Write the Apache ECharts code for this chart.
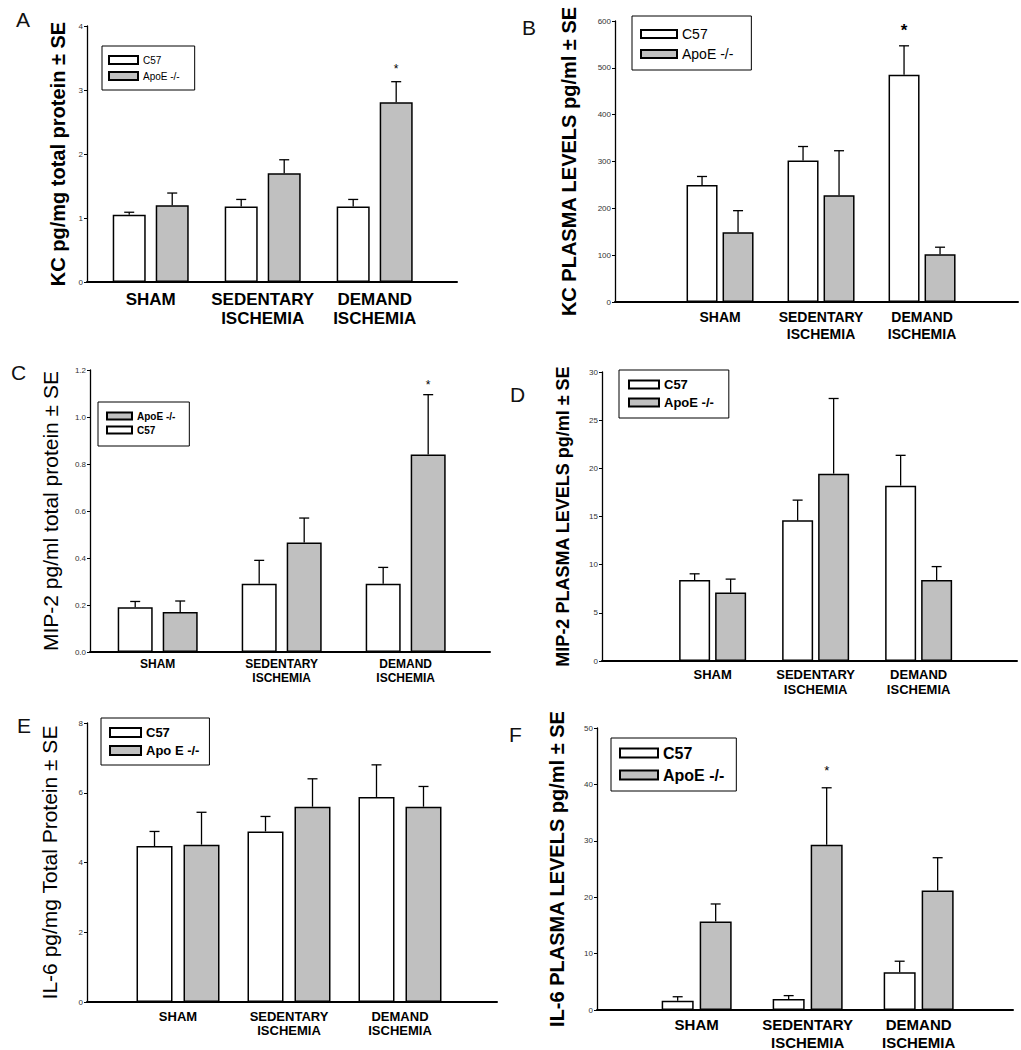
<!DOCTYPE html>
<html>
<head>
<meta charset="utf-8">
<script src="https://cdn.jsdelivr.net/npm/echarts@6/dist/echarts.min.js"></script>
<style>
html,body{margin:0;padding:0;background:#fff;}
#chart{width:1021px;height:1050px;}
</style>
</head>
<body>
<div id="chart"></div>
<script>
// ---------------- DATA ----------------
const categories = ['SHAM', 'SEDENTARY\nISCHEMIA', 'DEMAND\nISCHEMIA'];

// A: KC (tissue)
const A_c57 = [1.05, 1.18, 1.18];
const A_c57_se = [0.04, 0.11, 0.11];
const A_apoe = [1.20, 1.70, 2.81];
const A_apoe_se = [0.19, 0.21, 0.32];
const A_c57_star = [0, 0, 0];
const A_apoe_star = [0, 0, 1];
const A_yTicks = ['0', '1', '2', '3', '4'];

// B: KC plasma
const B_c57 = [250, 302, 485];
const B_c57_se = [18, 30, 62];
const B_apoe = [149, 228, 102];
const B_apoe_se = [46, 95, 15];
const B_c57_star = [0, 0, 1];
const B_apoe_star = [0, 0, 0];
const B_yTicks = ['0', '100', '200', '300', '400', '500', '600'];

// C: MIP-2 (tissue)
const C_c57 = [0.19, 0.29, 0.29];
const C_c57_se = [0.025, 0.10, 0.07];
const C_apoe = [0.17, 0.466, 0.84];
const C_apoe_se = [0.047, 0.104, 0.255];
const C_c57_star = [0, 0, 0];
const C_apoe_star = [0, 0, 1];
const C_yTicks = ['0.0', '0.2', '0.4', '0.6', '0.8', '1.0', '1.2'];

// D: MIP-2 plasma
const D_c57 = [8.4, 14.6, 18.2];
const D_c57_se = [0.65, 2.1, 3.15];
const D_apoe = [7.1, 19.45, 8.4];
const D_apoe_se = [1.4, 7.8, 1.4];
const D_c57_star = [0, 0, 0];
const D_apoe_star = [0, 0, 0];
const D_yTicks = ['0', '5', '10', '15', '20', '25', '30'];

// E: IL-6 (tissue)
const E_c57 = [4.47, 4.89, 5.88];
const E_c57_se = [0.42, 0.43, 0.92];
const E_apoe = [4.51, 5.60, 5.60];
const E_apoe_se = [0.93, 0.80, 0.58];
const E_c57_star = [0, 0, 0];
const E_apoe_star = [0, 0, 0];
const E_yTicks = ['0', '2', '4', '6', '8'];

// F: IL-6 plasma
const F_c57 = [1.65, 1.95, 6.7];
const F_c57_se = [0.7, 0.6, 1.95];
const F_apoe = [15.7, 29.3, 21.2];
const F_apoe_se = [3.1, 10.1, 5.8];
const F_c57_star = [0, 0, 0];
const F_apoe_star = [0, 1, 0];
const F_yTicks = ['0', '10', '20', '30', '40', '50'];

// ---------------- LAYOUT / STYLE ----------------
const FONT = '"Liberation Sans", Arial, Helvetica, sans-serif';
const WHITE = '#ffffff';
const GRAY = '#c0c0c0';

const panels = [
  { letter:'A', letterPos:[16,9],
    grid:{left:87, top:26, width:370, height:256}, yMax:4, yInt:1, yTicks:A_yTicks,
    xMin:-0.569, xMax:2.735, barW:33, gap:10,
    yName:'KC pg/mg total protein ± SE', yNameSize:20, yNameBold:'bold', yNameGap:19,
    catSize:17, catGap:8, catLH:19, starSize:12, starBold:'normal', starGap:13,
    c57:A_c57, c57se:A_c57_se, c57star:A_c57_star, apoe:A_apoe, apoese:A_apoe_se, apoestar:A_apoe_star,
    c57Name:'C57', apoeName:'ApoE -/-', legendOrder:['C57','ApoE -/-'],
    legend:{left:102, top:46, padding:[9,15,9,6], iw:29, ih:8, gap:6, fs:10, fw:'normal'} },
  { letter:'B', letterPos:[522,17],
    grid:{left:615, top:21, width:403, height:281}, yMax:600, yInt:100, yTicks:B_yTicks,
    xMin:-1.04, xMax:2.95, barW:31, gap:5,
    yName:'KC PLASMA LEVELS pg/ml ± SE', yNameSize:20, yNameBold:'bold', yNameGap:36,
    catSize:14, catGap:6, catLH:17, starSize:17, starBold:'bold', starGap:15,
    c57:B_c57, c57se:B_c57_se, c57star:B_c57_star, apoe:B_apoe, apoese:B_apoe_se, apoestar:B_apoe_star,
    c57Name:'C57', apoeName:'ApoE -/-', legendOrder:['C57','ApoE -/-'],
    legend:{left:632, top:16, padding:[11,18,9,8], iw:36, ih:8, gap:6, fs:14, fw:'normal'} },
  { letter:'C', letterPos:[11,362],
    grid:{left:90, top:370, width:400, height:282}, yMax:1.2, yInt:0.2, yTicks:C_yTicks,
    xMin:-0.546, xMax:2.68, barW:35, gap:10,
    yName:'MIP-2 pg/ml total protein ± SE', yNameSize:21, yNameBold:'normal', yNameGap:29,
    catSize:12, catGap:5, catLH:14, starSize:12, starBold:'normal', starGap:10,
    c57:C_c57, c57se:C_c57_se, c57star:C_c57_star, apoe:C_apoe, apoese:C_apoe_se, apoestar:C_apoe_star,
    c57Name:'C57', apoeName:'ApoE -/-', legendOrder:['ApoE -/-','C57'],
    legend:{left:98, top:402, padding:[9,14,11,8], iw:25, ih:7, gap:4, fs:10, fw:'bold'} },
  { letter:'D', letterPos:[510,384],
    grid:{left:602, top:372, width:415, height:289}, yMax:30, yInt:5, yTicks:D_yTicks,
    xMin:-1.074, xMax:2.955, barW:31, gap:5,
    yName:'MIP-2 PLASMA LEVELS pg/ml ± SE', yNameSize:18, yNameBold:'bold', yNameGap:30,
    catSize:13, catGap:6, catLH:15, starSize:12, starBold:'normal', starGap:12,
    c57:D_c57, c57se:D_c57_se, c57star:D_c57_star, apoe:D_apoe, apoese:D_apoe_se, apoestar:D_apoe_star,
    c57Name:'C57', apoeName:'ApoE -/-', legendOrder:['C57','ApoE -/-'],
    legend:{left:619, top:370, padding:[8,15,9,9], iw:30, ih:8, gap:5, fs:13, fw:'bold'} },
  { letter:'E', letterPos:[17,715],
    grid:{left:87, top:723, width:410, height:279}, yMax:8, yInt:2, yTicks:E_yTicks,
    xMin:-0.82, xMax:2.874, barW:36, gap:11,
    yName:'IL-6 pg/mg Total Protein ± SE', yNameSize:21, yNameBold:'normal', yNameGap:27,
    catSize:13, catGap:7, catLH:14, starSize:12, starBold:'normal', starGap:12,
    c57:E_c57, c57se:E_c57_se, c57star:E_c57_star, apoe:E_apoe, apoese:E_apoe_se, apoestar:E_apoe_star,
    c57Name:'C57', apoeName:'Apo E -/-', legendOrder:['C57','Apo E -/-'],
    legend:{left:101, top:718, padding:[8,10,8,8], iw:31, ih:9, gap:5, fs:13, fw:'bold'} },
  { letter:'F', letterPos:[509,724],
    grid:{left:597, top:728, width:416, height:282}, yMax:50, yInt:10, yTicks:F_yTicks,
    xMin:-0.898, xMax:2.85, barW:32, gap:6,
    yName:'IL-6 PLASMA LEVELS pg/ml ± SE', yNameSize:20, yNameBold:'bold', yNameGap:30,
    catSize:15, catGap:5, catLH:18, starSize:13, starBold:'normal', starGap:17,
    c57:F_c57, c57se:F_c57_se, c57star:F_c57_star, apoe:F_apoe, apoese:F_apoe_se, apoestar:F_apoe_star,
    c57Name:'C57', apoeName:'ApoE -/-', legendOrder:['C57','ApoE -/-'],
    legend:{left:611, top:738, padding:[7,12,8,8], iw:38, ih:9, gap:6, fs:16, fw:'bold'} }
];

// ---------------- BUILD ----------------
const option = {
  animation: false,
  backgroundColor: '#fff',
  textStyle: { fontFamily: FONT },
  title: [], grid: [], xAxis: [], yAxis: [], legend: [], series: []
};

function errRenderer(p, side) {
  return function (params, api) {
    const k = api.value(0), v = api.value(1), se = api.value(2), star = api.value(3);
    const p0 = api.coord([k, v]);
    const p1 = api.coord([k, v + se]);
    const x = p0[0] + side * (p.barW + p.gap) / 2;
    const children = [
      { type: 'line', shape: { x1: x, y1: p0[1], x2: x, y2: p1[1] }, style: { stroke: '#000', lineWidth: 1.3 } },
      { type: 'line', shape: { x1: x - 5, y1: p1[1], x2: x + 5, y2: p1[1] }, style: { stroke: '#000', lineWidth: 1.3 } }
    ];
    if (star) {
      children.push({ type: 'text', x: x, y: p1[1] - p.starGap,
        style: { text: '*', fontSize: p.starSize, fontWeight: p.starBold, fontFamily: FONT,
                 fill: '#000', align: 'center', verticalAlign: 'middle' } });
    }
    return { type: 'group', children: children };
  };
}

panels.forEach(function (p, i) {
  option.title.push({ text: p.letter, left: p.letterPos[0], top: p.letterPos[1], padding: 0,
    textStyle: { fontSize: 21, fontWeight: 'normal', color: '#111', fontFamily: FONT } });

  option.grid.push({ left: p.grid.left, top: p.grid.top, width: p.grid.width, height: p.grid.height,
    containLabel: false, outerBoundsMode: 'none' });

  option.xAxis.push({ type: 'value', gridIndex: i, min: p.xMin, max: p.xMax,
    axisLine: { show: true, onZero: false, lineStyle: { color: '#000', width: 2 } },
    axisTick: { show: false }, axisLabel: { show: false }, splitLine: { show: false } });

  option.yAxis.push({ type: 'value', gridIndex: i, min: 0, max: p.yMax, interval: p.yInt,
    axisLine: { show: true, onZero: false, lineStyle: { color: '#000', width: 1.3 } },
    axisTick: { show: true, inside: false, length: 3, lineStyle: { color: '#000', width: 1 } },
    axisLabel: { fontSize: 8, color: '#333', margin: 4, fontFamily: FONT,
      formatter: (function (ticks) { return function (v, idx) { return ticks[idx] !== undefined ? ticks[idx] : ''; }; })(p.yTicks) },
    splitLine: { show: false },
    name: p.yName, nameLocation: 'middle', nameRotate: 90, nameGap: p.yNameGap,
    nameTextStyle: { fontSize: p.yNameSize, fontWeight: p.yNameBold, color: '#000', fontFamily: FONT } });

  option.legend.push({ show: true, orient: 'vertical', left: p.legend.left, top: p.legend.top,
    padding: p.legend.padding, itemWidth: p.legend.iw, itemHeight: p.legend.ih, itemGap: p.legend.gap,
    borderColor: '#000', borderWidth: 1, backgroundColor: '#fff', selectedMode: false, icon: 'rect',
    data: p.legendOrder,
    textStyle: { fontSize: p.legend.fs, fontWeight: p.legend.fw, color: '#000', fontFamily: FONT } });

  const gapPct = (p.gap / p.barW * 100) + '%';
  option.series.push({ type: 'bar', name: p.c57Name, xAxisIndex: i, yAxisIndex: i,
    barWidth: p.barW, barGap: gapPct,
    itemStyle: { color: WHITE, borderColor: '#000', borderWidth: 1.5 },
    data: p.c57.map(function (v, k) { return [k, v]; }) });
  option.series.push({ type: 'bar', name: p.apoeName, xAxisIndex: i, yAxisIndex: i,
    barWidth: p.barW, barGap: gapPct,
    itemStyle: { color: GRAY, borderColor: '#000', borderWidth: 1.5 },
    data: p.apoe.map(function (v, k) { return [k, v]; }) });

  option.series.push({ type: 'custom', xAxisIndex: i, yAxisIndex: i, z: 5, clip: false,
    encode: { x: 0, y: 1 }, renderItem: errRenderer(p, -1),
    data: p.c57.map(function (v, k) { return [k, v, p.c57se[k], p.c57star[k]]; }) });
  option.series.push({ type: 'custom', xAxisIndex: i, yAxisIndex: i, z: 5, clip: false,
    encode: { x: 0, y: 1 }, renderItem: errRenderer(p, 1),
    data: p.apoe.map(function (v, k) { return [k, v, p.apoese[k], p.apoestar[k]]; }) });

  option.series.push({ type: 'custom', xAxisIndex: i, yAxisIndex: i, z: 5, clip: false,
    encode: { x: 0, y: 1 },
    renderItem: function (params, api) {
      const k = api.value(0);
      const pt = api.coord([k, 0]);
      return { type: 'text', x: pt[0], y: pt[1] + p.catGap,
        style: { text: categories[k], fontSize: p.catSize, fontWeight: 'bold', fontFamily: FONT,
                 lineHeight: p.catLH, fill: '#000', align: 'center', verticalAlign: 'top' } };
    },
    data: categories.map(function (c, k) { return [k, 0]; }) });
});

const chart = echarts.init(document.getElementById('chart'), null, { renderer: 'svg' });
chart.setOption(option);
</script>
</body>
</html>
